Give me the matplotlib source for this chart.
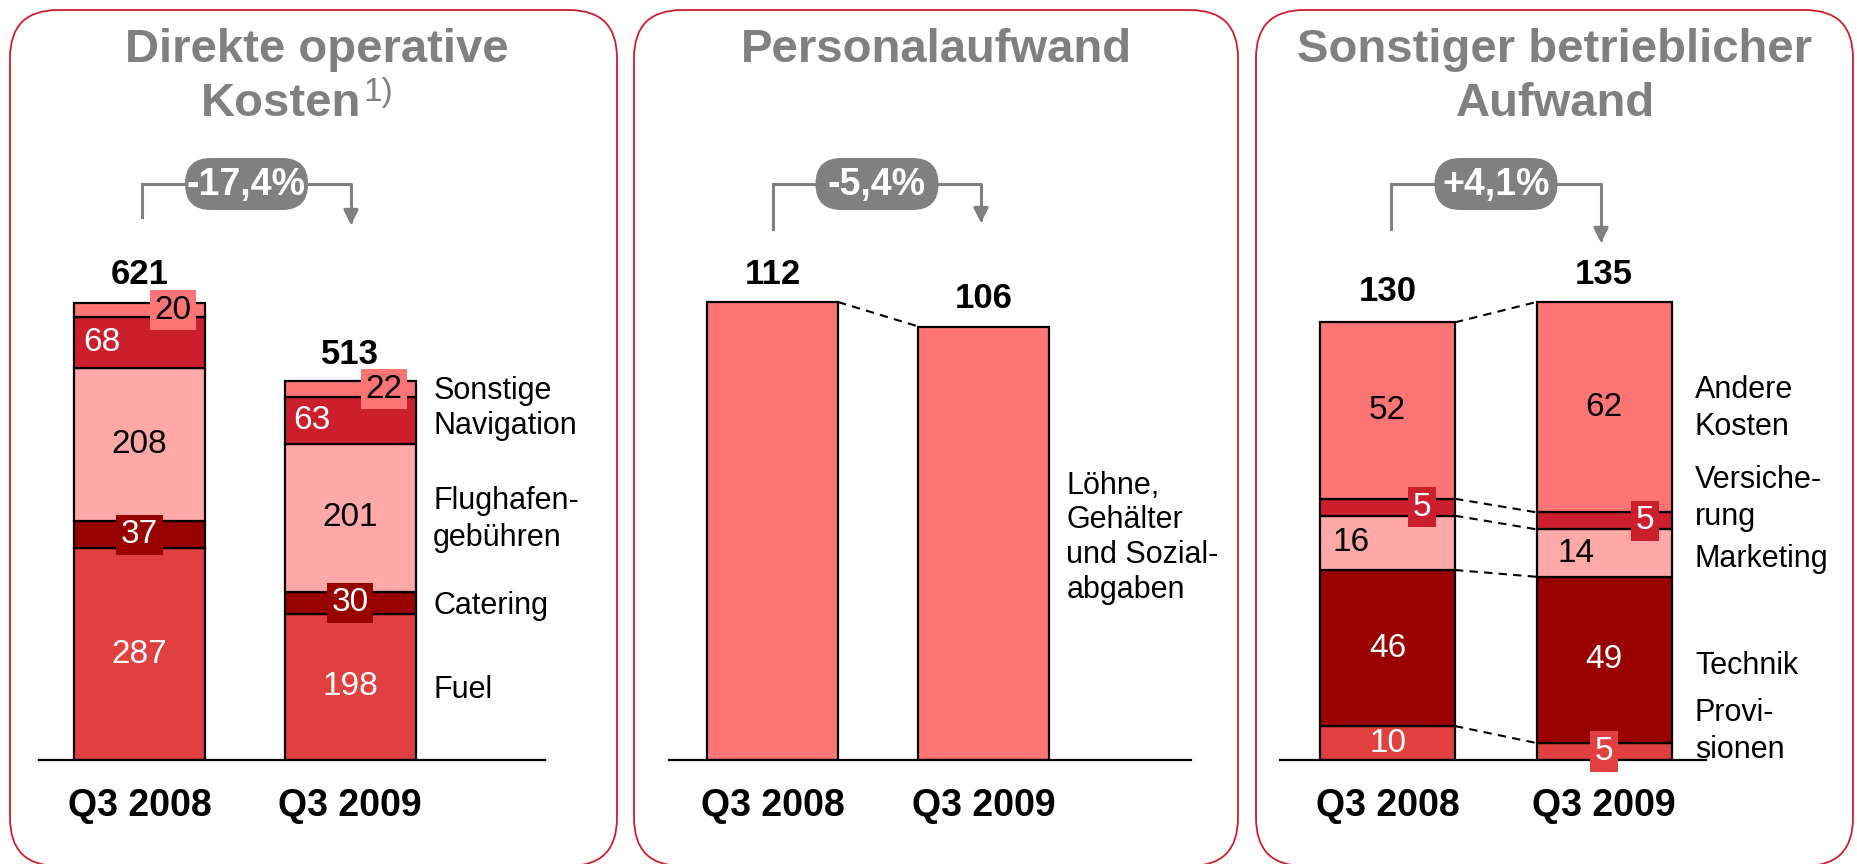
import matplotlib
matplotlib.use("Agg")
import matplotlib.pyplot as plt
from matplotlib.patches import FancyBboxPatch

plt.rcParams["font.family"] = ["Liberation Sans", "DejaVu Sans"]

W, H = 1858, 864
DPI = 100

# ---- data -------------------------------------------------------------
QUARTERS = ["Q3 2008", "Q3 2009"]

# Direkte operative Kosten, stacked bottom -> top
DOK_ITEMS = ["Fuel", "Catering", "Flughafen-\ngebühren", "Navigation", "Sonstige"]
DOK_2008 = [287, 37, 208, 68, 20]
DOK_2009 = [198, 30, 201, 63, 22]
DOK_TOTAL = [621, 513]
DOK_CHANGE = "-17,4%"

# Personalaufwand
PERS_ITEM = "Löhne,\nGehälter\nund Sozial-\nabgaben"
PERS_VALUES = [112, 106]
PERS_CHANGE = "-5,4%"

# Sonstiger betrieblicher Aufwand, stacked bottom -> top
SBA_ITEMS = ["Provi-\nsionen", "Technik", "Marketing", "Versiche-\nrung", "Andere\nKosten"]
SBA_2008 = [10, 46, 16, 5, 52]
SBA_2009 = [5, 49, 14, 5, 62]
SBA_TOTAL = [130, 135]
SBA_CHANGE = "+4,1%"

# ---- style ------------------------------------------------------------
GREY = "#808080"
FRAME = "#CC1F2E"
C_FUEL = "#E04040"
C_DARK = "#990000"
C_PINK = "#FEA8A8"
C_CRIMSON = "#CC1F2E"
C_SALMON = "#FF7575"

DOK_COLORS = [C_FUEL, C_DARK, C_PINK, C_CRIMSON, C_SALMON]
DOK_TXT = ["white", "white", "black", "white", "black"]
SBA_COLORS = [C_FUEL, C_DARK, C_PINK, C_CRIMSON, C_SALMON]
SBA_TXT = ["white", "white", "black", "white", "black"]

# (x offset in bar units, boxed?) for the value labels of each segment
DOK_LBL = [
    [(0, False), (0, True), (0, False), (-0.18, False), (0.16, True)],
    [(0, False), (0, True), (0, False), (-0.18, False), (0.16, True)],
]
SBA_LBL = [
    [(0, False), (0, False), (-0.17, False), (0.16, True), (0, False)],
    [(0, True), (0, False), (-0.13, False), (0.19, True), (0, False)],
]
# vertical nudges (pixels, up = positive) for the category names at the right
DOK_SIDE_DY = [-3, -3, -2, -6, -2]
SBA_SIDE_DY = [20, -6, -6, 22, -1]

BASE_Y = 760      # pixel row of the baselines
TOP_Y = 150       # pixel row of the axes tops
MAX_BAR_PX = 458  # pixel height of the tallest bar in every panel

fig = plt.figure(figsize=(W / DPI, H / DPI), dpi=DPI)

# background layer in pixel coordinates
bg = fig.add_axes([0, 0, 1, 1], zorder=0)
bg.set_xlim(0, W)
bg.set_ylim(H, 0)
bg.axis("off")


def panel_frame(x0, x1):
    bg.add_patch(FancyBboxPatch((x0, 10), x1 - x0, 856,
                                boxstyle="round,pad=0,rounding_size=48",
                                fc="white", ec=FRAME, lw=1.3))


def change_badge(xl, xr, yl, yr, text):
    yb = 184
    cx = (xl + xr) / 2
    pw, ph = 123, 52
    bg.plot([xl, xl, cx - pw / 2], [yl, yb, yb], color=GREY, lw=2.2,
            solid_joinstyle="miter")
    bg.annotate("", xy=(xr, yr), xytext=(cx + pw / 2, yb),
                arrowprops=dict(arrowstyle="-|>", color=GREY, lw=2.2,
                                mutation_scale=22,
                                connectionstyle="angle,angleA=0,angleB=90,rad=0",
                                shrinkA=0, shrinkB=0))
    bg.add_patch(FancyBboxPatch((cx - pw / 2, yb - ph / 2), pw, ph,
                                boxstyle=f"round,pad=0,rounding_size={ph / 2}",
                                fc=GREY, ec="none", zorder=5))
    bg.text(cx, yb + 1, text, color="white", fontsize=27, fontweight="bold",
            ha="center", va="center", zorder=6)


def make_axes(x0, x1, c0, c1, bar_px, ymax):
    ax = fig.add_axes([x0 / W, (H - BASE_Y) / H, (x1 - x0) / W,
                       (BASE_Y - TOP_Y) / H], zorder=2)
    unit = c1 - c0
    ax.set_xlim((x0 - c0) / unit, (x1 - c0) / unit)
    ax.set_ylim(0, ymax * (BASE_Y - TOP_Y) / MAX_BAR_PX)
    ax.patch.set_alpha(0)
    for s in ["top", "left", "right"]:
        ax.spines[s].set_visible(False)
    ax.spines["bottom"].set_linewidth(1.6)
    ax.set_yticks([])
    ax.set_xticks([0, 1])
    ax.set_xticklabels(QUARTERS, fontsize=27, fontweight="bold")
    ax.tick_params(axis="x", length=0, pad=20)
    return ax, bar_px / unit


def stacked(ax, width, series, colors, txtcols, lblspec):
    for i, vals in enumerate(series):
        bottom = 0
        for j, v in enumerate(vals):
            ax.bar(i, v, width, bottom=bottom, color=colors[j],
                   edgecolor="black", linewidth=1.6, zorder=2)
            dx, boxed = lblspec[i][j]
            kw = {}
            if boxed:
                kw["bbox"] = dict(boxstyle="square,pad=0.14", fc=colors[j],
                                  ec="none")
            ax.text(i + dx, bottom + v / 2, str(v), color=txtcols[j],
                    fontsize=24, ha="center", va="center", zorder=4, **kw)
            bottom += v


def totals(ax, values):
    for i, v in enumerate(values):
        ax.annotate(str(v), xy=(i, v), xytext=(0, 13),
                    textcoords="offset points", ha="center", va="baseline",
                    fontsize=25, fontweight="bold")


def connectors(ax, width, s0, s1):
    c0 = c1 = 0
    for a, b in zip(s0, s1):
        c0 += a
        c1 += b
        ax.plot([width / 2, 1 - width / 2], [c0, c1], color="black", lw=1.5,
                ls=(0, (4, 3)), zorder=1)


def side_labels(ax, x, vals, names, dys, fs=22, ls=1.3):
    bottom = 0
    for v, name, dy in zip(vals, names, dys):
        ax.annotate(name, xy=(x, bottom + v / 2), xytext=(0, dy * 0.72),
                    textcoords="offset points", ha="left", va="center",
                    fontsize=fs, linespacing=ls, annotation_clip=False)
        bottom += v


# ---- panel frames, titles, change badges --------------------------------
panel_frame(10, 617)
panel_frame(634, 1238)
panel_frame(1256, 1853)

title_kw = dict(color=GREY, fontsize=34, fontweight="bold", va="center")
bg.text(317, 50, "Direkte operative", ha="center", **title_kw)
bg.text(361, 104, "Kosten", ha="right", **title_kw)
bg.text(364, 92, "1)", ha="left", color=GREY, fontsize=24, va="center")
bg.text(936, 50, "Personalaufwand", ha="center", **title_kw)
bg.text(1555, 50, "Sonstiger betrieblicher", ha="center", **title_kw)
bg.text(1555, 104, "Aufwand", ha="center", **title_kw)

change_badge(142, 351, 217, 225, DOK_CHANGE)
change_badge(773, 981, 229, 223, PERS_CHANGE)
change_badge(1391, 1601, 229, 243, SBA_CHANGE)

# ---- panel 1: Direkte operative Kosten ---------------------------------
ax1, w1 = make_axes(39, 545, 139.5, 350, 131, max(DOK_TOTAL))
stacked(ax1, w1, [DOK_2008, DOK_2009], DOK_COLORS, DOK_TXT, DOK_LBL)
totals(ax1, DOK_TOTAL)
side_labels(ax1, 1.395, DOK_2009, DOK_ITEMS, DOK_SIDE_DY)

# ---- panel 2: Personalaufwand -------------------------------------------
ax2, w2 = make_axes(669, 1191, 772.5, 984, 131, max(PERS_VALUES))
ax2.bar([0, 1], PERS_VALUES, w2, color=C_SALMON, edgecolor="black",
        linewidth=1.6, zorder=2)
ax2.plot([w2 / 2, 1 - w2 / 2], PERS_VALUES, color="black", lw=1.5,
         ls=(0, (4, 3)), zorder=1)
totals(ax2, PERS_VALUES)
ax2.annotate(PERS_ITEM, xy=(1.39, PERS_VALUES[1] / 2), xytext=(0, 4),
             textcoords="offset points", ha="left", va="center",
             fontsize=22, linespacing=1.2, annotation_clip=False)

# ---- panel 3: Sonstiger betrieblicher Aufwand ----------------------------
ax3, w3 = make_axes(1280, 1706, 1387.5, 1604, 135, max(SBA_TOTAL))
stacked(ax3, w3, [SBA_2008, SBA_2009], SBA_COLORS, SBA_TXT, SBA_LBL)
connectors(ax3, w3, SBA_2008, SBA_2009)
totals(ax3, SBA_TOTAL)
side_labels(ax3, 1.42, SBA_2009, SBA_ITEMS, SBA_SIDE_DY)

fig.savefig("out.png", dpi=DPI)
